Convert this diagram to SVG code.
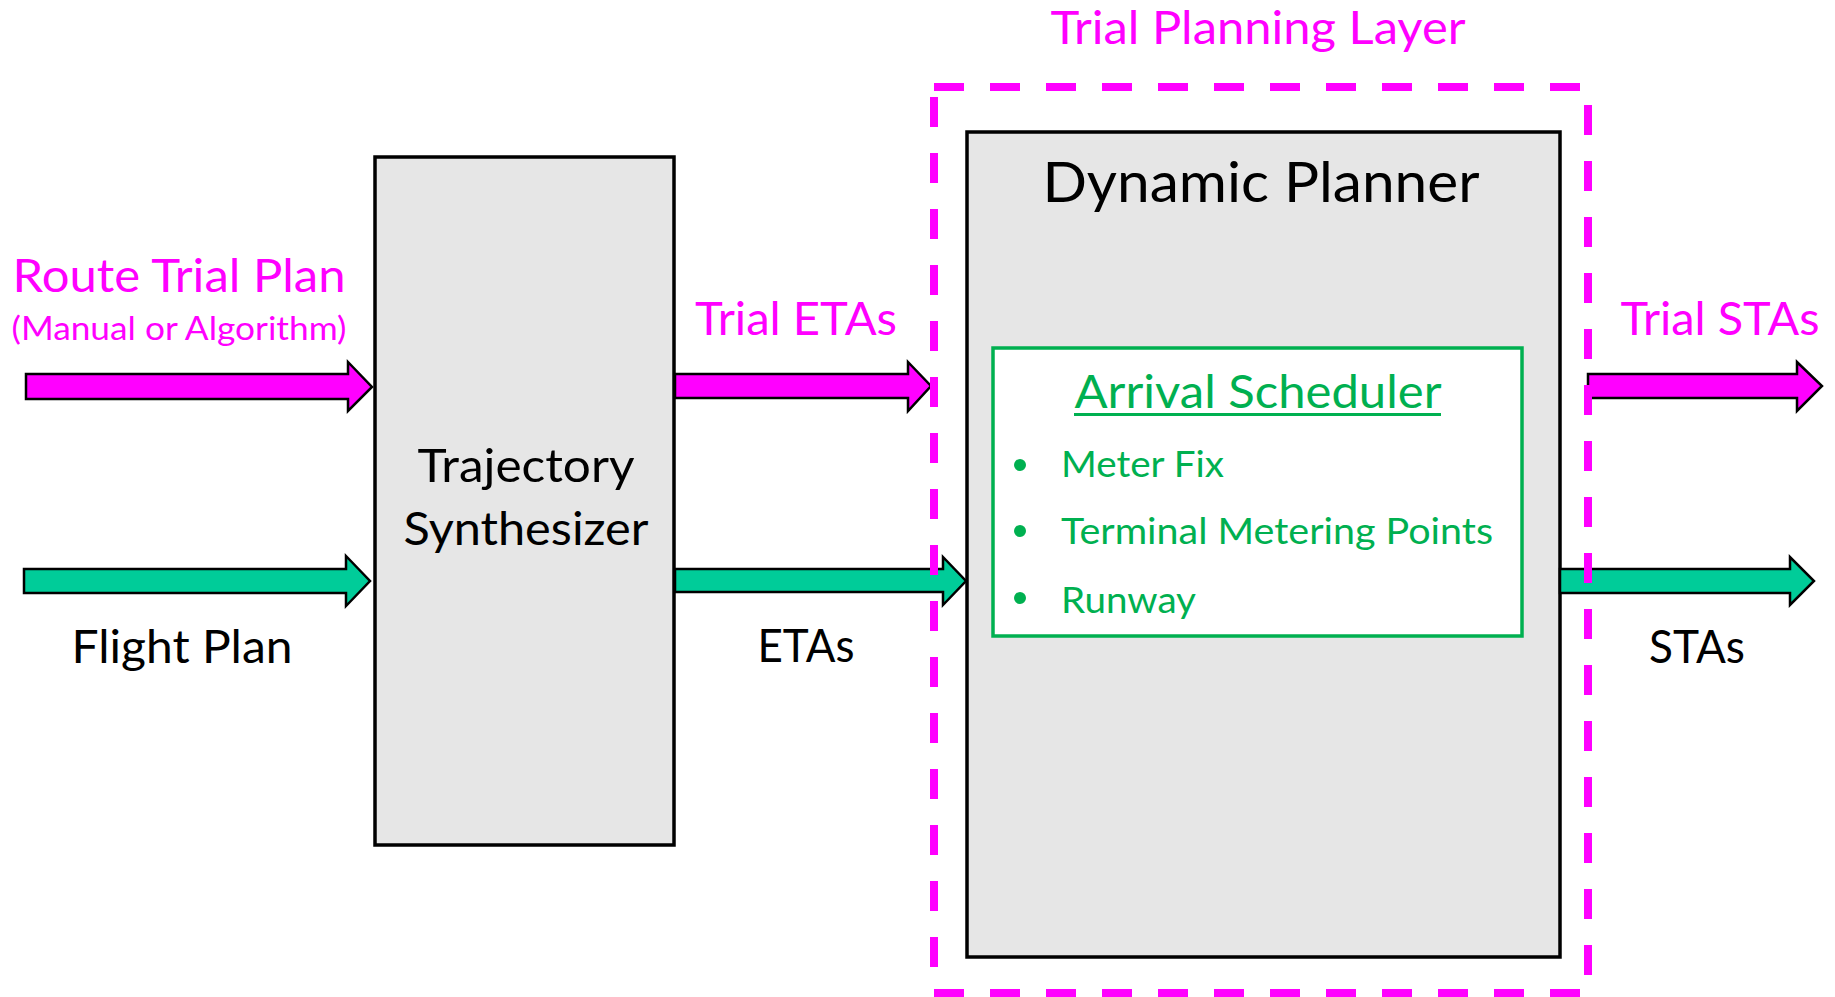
<svg xmlns="http://www.w3.org/2000/svg" width="1835" height="997" viewBox="0 0 1835 997">
<style>
text{font-family:Lato,"Open Sans","Liberation Sans",sans-serif}
.mag{fill:#FF00FF}
.blk{fill:#000000}
.grn{fill:#00B050}
.box{fill:#E6E6E6;stroke:#000000;stroke-width:3.5}
.arrM{fill:#FF00FF;stroke:#000000;stroke-width:2.5;stroke-linejoin:miter}
.arrG{fill:#00CC99;stroke:#000000;stroke-width:2.5;stroke-linejoin:miter}
</style>
<rect width="1835" height="997" fill="#FFFFFF"/>
<g id="trajectory-synthesizer">
<rect class="box" x="375" y="157" width="299" height="688"/>
<text class="blk" x="526" y="482" font-size="47" text-anchor="middle" textLength="217" lengthAdjust="spacingAndGlyphs">Trajectory</text>
<text class="blk" x="526" y="545" font-size="47" text-anchor="middle" textLength="245" lengthAdjust="spacingAndGlyphs">Synthesizer</text>
</g>
<g id="dynamic-planner">
<rect class="box" x="967" y="132" width="593" height="825"/>
<text class="blk" x="1261" y="202" font-size="57" text-anchor="middle" textLength="437" lengthAdjust="spacingAndGlyphs">Dynamic Planner</text>
</g>
<g id="arrival-scheduler">
<rect x="993" y="348" width="529" height="288" fill="#FFFFFF" stroke="#00B050" stroke-width="3.5"/>
<text class="grn" x="1258" y="408" font-size="47" text-anchor="middle" textLength="367" lengthAdjust="spacingAndGlyphs">Arrival Scheduler</text>
<rect class="grn" x="1074" y="413" width="367" height="3"/>
<circle class="grn" cx="1020" cy="465" r="6"/>
<circle class="grn" cx="1020" cy="531" r="6"/>
<circle class="grn" cx="1020" cy="598" r="6"/>
<text class="grn" x="1061" y="477" font-size="37" textLength="163" lengthAdjust="spacingAndGlyphs">Meter Fix</text>
<text class="grn" x="1061" y="544" font-size="37" textLength="432" lengthAdjust="spacingAndGlyphs">Terminal Metering Points</text>
<text class="grn" x="1061" y="613" font-size="37" textLength="135" lengthAdjust="spacingAndGlyphs">Runway</text>
</g>
<g id="connectors">
<polygon class="arrM" points="26,374 348,374 348,362 372,387 348,411 348,399 26,399"/>
<polygon class="arrG" points="24,569 346,569 346,556 370,581 346,606 346,593 24,593"/>
<polygon class="arrM" points="675,374 908,374 908,362 931,386 908,411 908,398 675,398"/>
<polygon class="arrG" points="675,569 943,569 943,557 966,581 943,605 943,592 675,592"/>
<polygon class="arrM" points="1588,374 1797,374 1797,362 1822,386 1797,411 1797,398 1588,398"/>
<polygon class="arrG" points="1560,569 1790,569 1790,557 1814,581 1790,605 1790,593 1560,593"/>
</g>
<g id="trial-planning-layer">
<rect x="934" y="87" width="654" height="906" fill="none" stroke="#FF00FF" stroke-width="8" stroke-dasharray="30 26"/>
<text class="mag" x="1258" y="44" font-size="47" text-anchor="middle" textLength="415" lengthAdjust="spacingAndGlyphs">Trial Planning Layer</text>
</g>
<g id="labels">
<text class="mag" x="179" y="292" font-size="47" text-anchor="middle" textLength="333" lengthAdjust="spacingAndGlyphs">Route Trial Plan</text>
<text class="mag" x="179" y="340" font-size="32" text-anchor="middle" textLength="335" lengthAdjust="spacingAndGlyphs">(Manual or Algorithm)</text>
<text class="blk" x="182" y="663" font-size="47" text-anchor="middle" textLength="221" lengthAdjust="spacingAndGlyphs">Flight Plan</text>
<text class="mag" x="796" y="335" font-size="47" text-anchor="middle" textLength="202" lengthAdjust="spacingAndGlyphs">Trial ETAs</text>
<text class="blk" x="806" y="662" font-size="47" text-anchor="middle" textLength="97" lengthAdjust="spacingAndGlyphs">ETAs</text>
<text class="mag" x="1720" y="335" font-size="47" text-anchor="middle" textLength="199" lengthAdjust="spacingAndGlyphs">Trial STAs</text>
<text class="blk" x="1697" y="663" font-size="47" text-anchor="middle" textLength="96" lengthAdjust="spacingAndGlyphs">STAs</text>
</g>
</svg>
